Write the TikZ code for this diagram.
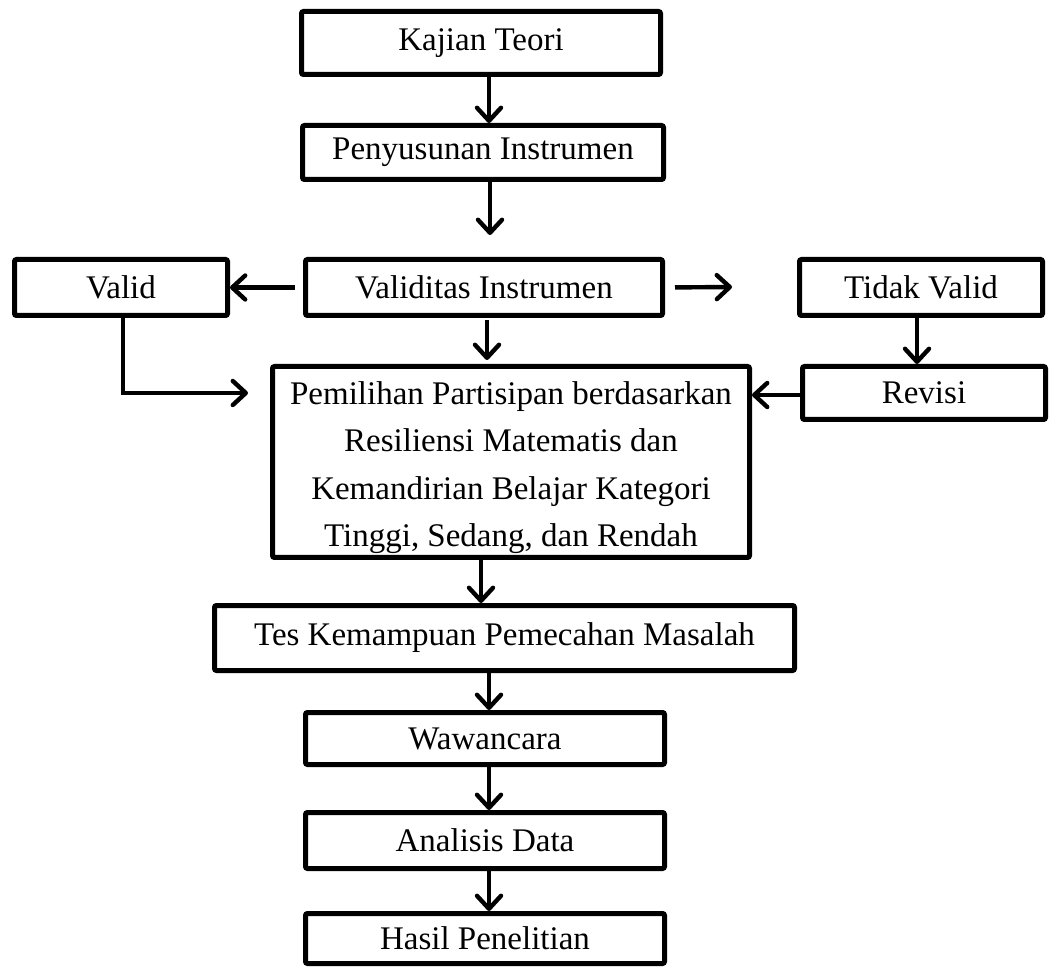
\documentclass[tikz,border=0pt]{standalone}
\usepackage{fontspec}
\setmainfont{Liberation Serif}
\usetikzlibrary{arrows.meta}
\begin{document}
\begin{tikzpicture}[x=0.5pt,y=-0.5pt,
  box/.style={draw, line width=2.5pt, rounded corners=1pt, rectangle, inner sep=0pt,
    align=center, font=\fontsize{16.5}{23.7}\selectfont},
  tip/.tip={Straight Barb[length=6.5pt,width=12pt,line cap=round,line join=round]},
  arr/.style={line width=2.2pt, -tip}
]
\useasboundingbox (0,0) rectangle (1051,968);
\node[box, minimum width=179.5pt, minimum height=31.5pt] (kt) at (481,43) {Kajian Teori};
\node[box, minimum width=180.5pt, minimum height=27pt] (pi) at (483,152.5) {Penyusunan Instrumen};
\node[box, minimum width=178.5pt, minimum height=28pt] (vi) at (484,287.5) {Validitas Instrumen};
\node[box, minimum width=106.5pt, minimum height=28pt] (va) at (121,287.5) {Valid};
\node[box, minimum width=121.5pt, minimum height=28pt] (tv) at (921,287.5) {Tidak Valid};
\node[box, minimum width=121.5pt, minimum height=26.5pt] (rv) at (924,393) {Revisi};
\node[box, minimum width=238.5pt, minimum height=95.5pt] (pp) at (511,462)
  {\rule{0pt}{17pt}Pemilihan Partisipan berdasarkan\\Resiliensi Matematis dan\\Kemandirian Belajar Kategori\\Tinggi, Sedang, dan Rendah};
\node[box, minimum width=290pt, minimum height=32.5pt] (tk) at (504.5,638) {Tes Kemampuan Pemecahan Masalah};
\node[box, minimum width=179.5pt, minimum height=26pt] (ww) at (485,738.5) {Wawancara};
\node[box, minimum width=179.5pt, minimum height=28pt] (ad) at (485,840.5) {Analisis Data};
\node[box, minimum width=179.5pt, minimum height=25pt] (hp) at (485,938.5) {Hasil Penelitian};
\coordinate (vr) at (732,287);
\coordinate (vp) at (248,393);
\draw[arr] ([xshift=4pt]kt.south) -- ([xshift=4pt]kt.south |- pi.north);
\draw[arr, shorten >=11pt] ([xshift=3.5pt]pi.south) -- ([xshift=3.5pt]pi.south |- vi.north);
\draw[arr, shorten <=1pt, shorten >=2pt] ([xshift=1.5pt]vi.south) -- ([xshift=1.5pt]vi.south |- pp.north);
\draw[arr, shorten <=4pt] (vi.west) -- (va.east);
\draw[arr, shorten <=5pt] (vi.east) -- (vr);
\draw[arr] ([xshift=-2pt]tv.south) -- ([xshift=-2pt]tv.south |- rv.north);
\draw[arr] ([yshift=-1pt]rv.west) -- ([yshift=-1pt]rv.west -| pp.east);
\draw[arr] ([xshift=1pt]va.south) |- (vp);
\draw[arr] ([xshift=-15pt]pp.south) -- ([xshift=-15pt]pp.south |- tk.north);
\draw[arr] ([xshift=-7.75pt]tk.south) -- ([xshift=-7.75pt]tk.south |- ww.north);
\draw[arr] ([xshift=2pt]ww.south) -- ([xshift=2pt]ww.south |- ad.north);
\draw[arr] ([xshift=2pt]ad.south) -- ([xshift=2pt]ad.south |- hp.north);
\end{tikzpicture}
\end{document}
